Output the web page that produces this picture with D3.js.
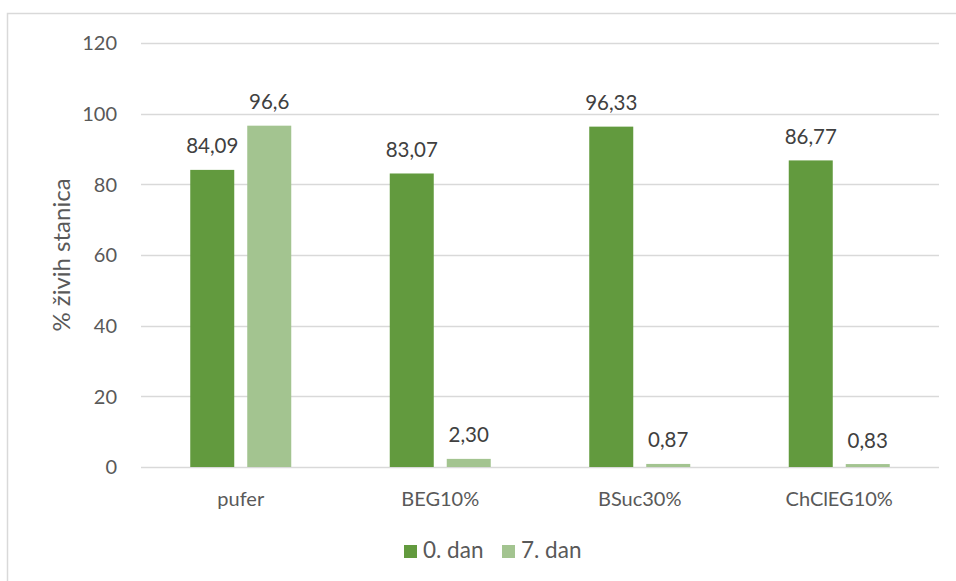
<!DOCTYPE html>
<html>
<head>
<meta charset="utf-8">
<script src="https://cdn.jsdelivr.net/npm/d3@7"></script>
<style>
  html, body { margin: 0; padding: 0; background: #fff; }
  svg { display: block; }
  text { font-family: Lato, "Open Sans", sans-serif; }
</style>
</head>
<body>
<svg id="chart" width="956" height="581"></svg>
<script>
const categories = ["pufer", "BEG10%", "BSuc30%", "ChClEG10%"];
const seriesNames = ["0. dan", "7. dan"];
const day0 = [84.09, 83.07, 96.33, 86.77];
const day7 = [96.6, 2.30, 0.87, 0.83];
const labels0 = ["84,09", "83,07", "96,33", "86,77"];
const labels7 = ["96,6", "2,30", "0,87", "0,83"];
const yTicks = [0, 20, 40, 60, 80, 100, 120];
const colors = ["#629a3e", "#a3c490"];
const yTitle = "% živih stanica";

(function () {
const svg = d3.select("#chart");
const W = 956, H = 581;
const FS = 20;

// outer chart border (top and left visible)
svg.append("path")
  .attr("d", `M7.5,${H} L7.5,13.5 L${W},13.5`)
  .attr("fill", "none").attr("stroke", "#d9d9d9").attr("stroke-width", 1.5);

const pLeft = 141, pRight = 939, pTop = 43, pBottom = 467;

const y = d3.scaleLinear().domain([0, 120]).range([pBottom, pTop]);
const x0 = d3.scaleBand().domain(categories).range([pLeft, pRight]).padding(0);
const groupW = 101;
const x1 = d3.scaleBand().domain(seriesNames).range([0, groupW]).paddingInner(13 / 57).paddingOuter(0);

// gridlines
svg.append("g").selectAll("line").data(yTicks).join("line")
  .attr("x1", pLeft).attr("x2", pRight)
  .attr("y1", d => Math.round(y(d)) + 0.5).attr("y2", d => Math.round(y(d)) + 0.5)
  .attr("stroke", "#d9d9d9").attr("stroke-width", 1.3);

// y tick labels
svg.append("g").selectAll("text").data(yTicks).join("text")
  .attr("x", 117).attr("y", d => y(d))
  .attr("dy", "0.37em")
  .attr("text-anchor", "end")
  .attr("font-size", FS).attr("fill", "#595959")
  .text(d => d);

// y title
svg.append("text")
  .attr("transform", `translate(70,${(pTop + pBottom) / 2}) rotate(-90)`)
  .attr("text-anchor", "middle")
  .attr("font-size", 24).attr("fill", "#595959")
  .text(yTitle);

const series = [
  { name: seriesNames[0], values: day0, labels: labels0, color: colors[0] },
  { name: seriesNames[1], values: day7, labels: labels7, color: colors[1] }
];

const gOff = (x0.bandwidth() - groupW) / 2;

series.forEach(s => {
  const g = svg.append("g");
  g.selectAll("rect").data(categories).join("rect")
    .attr("x", c => x0(c) + gOff + x1(s.name))
    .attr("y", (c, i) => y(s.values[i]))
    .attr("width", x1.bandwidth())
    .attr("height", (c, i) => y(0) - y(s.values[i]))
    .attr("fill", s.color);
  g.selectAll("text").data(categories).join("text")
    .attr("x", c => x0(c) + gOff + x1(s.name) + x1.bandwidth() / 2)
    .attr("y", (c, i) => y(s.values[i]) - 16.5)
    .attr("text-anchor", "middle")
    .attr("font-size", 20.5).attr("fill", "#404040")
    .text((c, i) => s.labels[i]);
});

// category labels
svg.append("g").selectAll("text").data(categories).join("text")
  .attr("x", c => x0(c) + x0.bandwidth() / 2)
  .attr("y", 506)
  .attr("text-anchor", "middle")
  .attr("font-size", FS).attr("fill", "#595959")
  .text(c => c);

// legend
const legendX = [404, 502];
series.forEach((s, i) => {
  svg.append("rect")
    .attr("x", legendX[i]).attr("y", 545)
    .attr("width", 13).attr("height", 13)
    .attr("fill", s.color);
  svg.append("text")
    .attr("x", legendX[i] + 19).attr("y", 558)
    .attr("font-size", 22.5).attr("fill", "#595959")
    .text(s.name);
});
})();
</script>
</body>
</html>
